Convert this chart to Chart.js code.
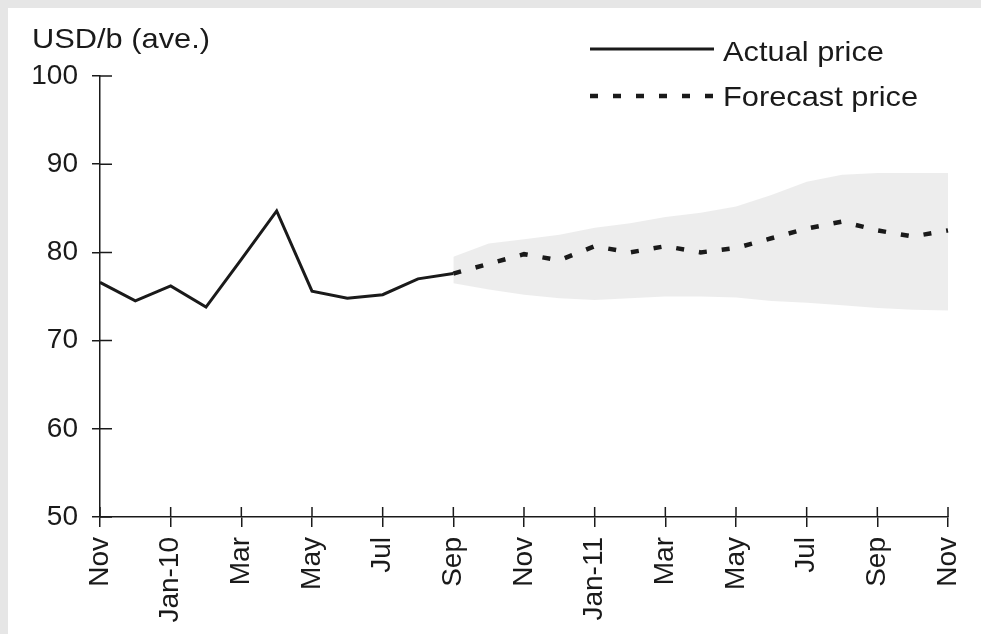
<!DOCTYPE html>
<html>
<head>
<meta charset="utf-8">
<script src="https://cdn.jsdelivr.net/npm/chart.js@4.4.1/dist/chart.umd.min.js"></script>
<style>
  html, body { margin: 0; padding: 0; }
  body { width: 981px; height: 634px; background: #e6e6e6; position: relative; overflow: hidden; }
  #wrap { position: absolute; left: 8px; top: 8px; width: 973px; height: 626px; background: #fff; }
</style>
</head>
<body>
<div id="wrap"><canvas id="chart"></canvas></div>
<script>
// months Nov-09 .. Nov-11
const months = ['Nov-09','Dec-09','Jan-10','Feb-10','Mar-10','Apr-10','May-10','Jun-10','Jul-10','Aug-10','Sep-10',
  'Oct-10','Nov-10','Dec-10','Jan-11','Feb-11','Mar-11','Apr-11','May-11','Jun-11','Jul-11','Aug-11','Sep-11','Oct-11','Nov-11'];
const tickLabels = ['Nov','Jan-10','Mar','May','Jul','Sep','Nov','Jan-11','Mar','May','Jul','Sep','Nov'];
const yTicks = [50, 60, 70, 80, 90, 100];

// Nov-09 .. Sep-10
const actualPrice = [76.6, 74.5, 76.2, 73.8, 79.2, 84.7, 75.6, 74.8, 75.2, 77.0, 77.6];
// Sep-10 .. Nov-11
const forecastPrice = [77.6, 78.7, 79.8, 79.1, 80.7, 80.0, 80.7, 80.0, 80.5, 81.6, 82.7, 83.5, 82.5, 81.8, 82.5];
const bandHigh = [79.5, 81.0, 81.5, 82.0, 82.8, 83.3, 84.0, 84.5, 85.2, 86.5, 88.0, 88.8, 89.0, 89.0, 89.0];
const bandLow  = [76.5, 75.8, 75.2, 74.8, 74.6, 74.8, 75.0, 75.0, 74.9, 74.5, 74.3, 74.0, 73.7, 73.5, 73.4];

const FONT = '"Liberation Sans", Arial, Helvetica, sans-serif';
const INK = '#1a1a1a';

const lead = Array(months.length - forecastPrice.length).fill(null);
const pad = arr => arr.concat(Array(months.length - arr.length).fill(null));

// text drawn slightly wide, like the scanned original
function wideText(ctx, text, x, y) {
  ctx.save();
  ctx.translate(x, y);
  ctx.scale(1.1, 1);
  ctx.fillText(text, 0, 0);
  ctx.restore();
}

// inner half of the crossing tick marks, title and legend
const extras = {
  id: 'extras',
  afterDraw(chart) {
    const ctx = chart.ctx;
    const a = chart.chartArea;
    const xs = chart.scales.x, ys = chart.scales.y;
    ctx.save();
    ctx.strokeStyle = INK;
    ctx.lineWidth = 1.5;
    ctx.beginPath();
    yTicks.forEach(v => {
      const py = ys.getPixelForValue(v);
      ctx.moveTo(a.left, py);
      ctx.lineTo(a.left + 12, py);
    });
    months.forEach((m, i) => {
      if (i % 2) return;
      const px = xs.getPixelForValue(i);
      ctx.moveTo(px, a.bottom);
      ctx.lineTo(px, a.bottom - 10);
    });
    ctx.stroke();

    ctx.fillStyle = INK;
    ctx.font = '28px ' + FONT;
    ctx.textBaseline = 'alphabetic';
    ctx.textAlign = 'left';
    wideText(ctx, 'USD/b (ave.)', 24, 40);

    // legend
    const lx1 = 582, lx2 = 706, tx = 715;
    ctx.lineWidth = 3;
    ctx.beginPath();
    ctx.moveTo(lx1, 41); ctx.lineTo(lx2, 41);
    ctx.stroke();
    wideText(ctx, 'Actual price', tx, 53);

    ctx.lineWidth = 4.5;
    ctx.setLineDash([8, 15]);
    ctx.beginPath();
    ctx.moveTo(lx1, 88); ctx.lineTo(lx2 + 4, 88);
    ctx.stroke();
    ctx.setLineDash([]);
    wideText(ctx, 'Forecast price', tx, 98);
    ctx.restore();
  }
};

new Chart(document.getElementById('chart'), {
  type: 'line',
  data: {
    labels: months,
    datasets: [
      {
        label: 'Actual price',
        data: pad(actualPrice),
        borderColor: INK,
        borderWidth: 3,
        pointRadius: 0,
        tension: 0,
        order: 1
      },
      {
        label: 'Forecast price',
        data: lead.concat(forecastPrice),
        borderColor: INK,
        borderWidth: 4.5,
        borderDash: [8, 15],
        pointRadius: 0,
        tension: 0,
        order: 1
      },
      {
        label: 'low',
        data: lead.concat(bandLow),
        borderWidth: 0,
        pointRadius: 0,
        fill: false,
        order: 3
      },
      {
        label: 'high',
        data: lead.concat(bandHigh),
        borderWidth: 0,
        pointRadius: 0,
        backgroundColor: 'rgba(0,0,0,0.07)',
        fill: '-1',
        order: 3
      }
    ]
  },
  options: {
    responsive: true,
    maintainAspectRatio: false,
    animation: false,
    layout: { padding: { top: 68, right: 33, left: 0, bottom: 0 } },
    plugins: {
      legend: { display: false },
      tooltip: { enabled: false }
    },
    scales: {
      x: {
        afterFit: s => { s.height = 117; s.paddingRight = 0; s.paddingLeft = 0; },
        grid: { display: true, drawOnChartArea: false, drawTicks: true, tickLength: 10, color: INK, lineWidth: 1.5 },
        border: { display: true, color: INK, width: 1.5 },
        ticks: {
          autoSkip: false,
          maxRotation: 90,
          minRotation: 90,
          padding: 10,
          color: INK,
          font: { family: FONT, size: 28 },
          callback: (v, i) => (i % 2 === 0 ? tickLabels[i / 2] : null)
        }
      },
      y: {
        min: 50,
        max: 100,
        afterFit: s => { s.width = 92; },
        grid: { display: true, drawOnChartArea: false, drawTicks: true, tickLength: 8, color: INK, lineWidth: 1.5 },
        border: { display: true, color: INK, width: 1.5 },
        ticks: {
          stepSize: 10,
          padding: 14,
          color: INK,
          font: { family: FONT, size: 28 }
        }
      }
    }
  },
  plugins: [extras]
});
</script>
</body>
</html>
